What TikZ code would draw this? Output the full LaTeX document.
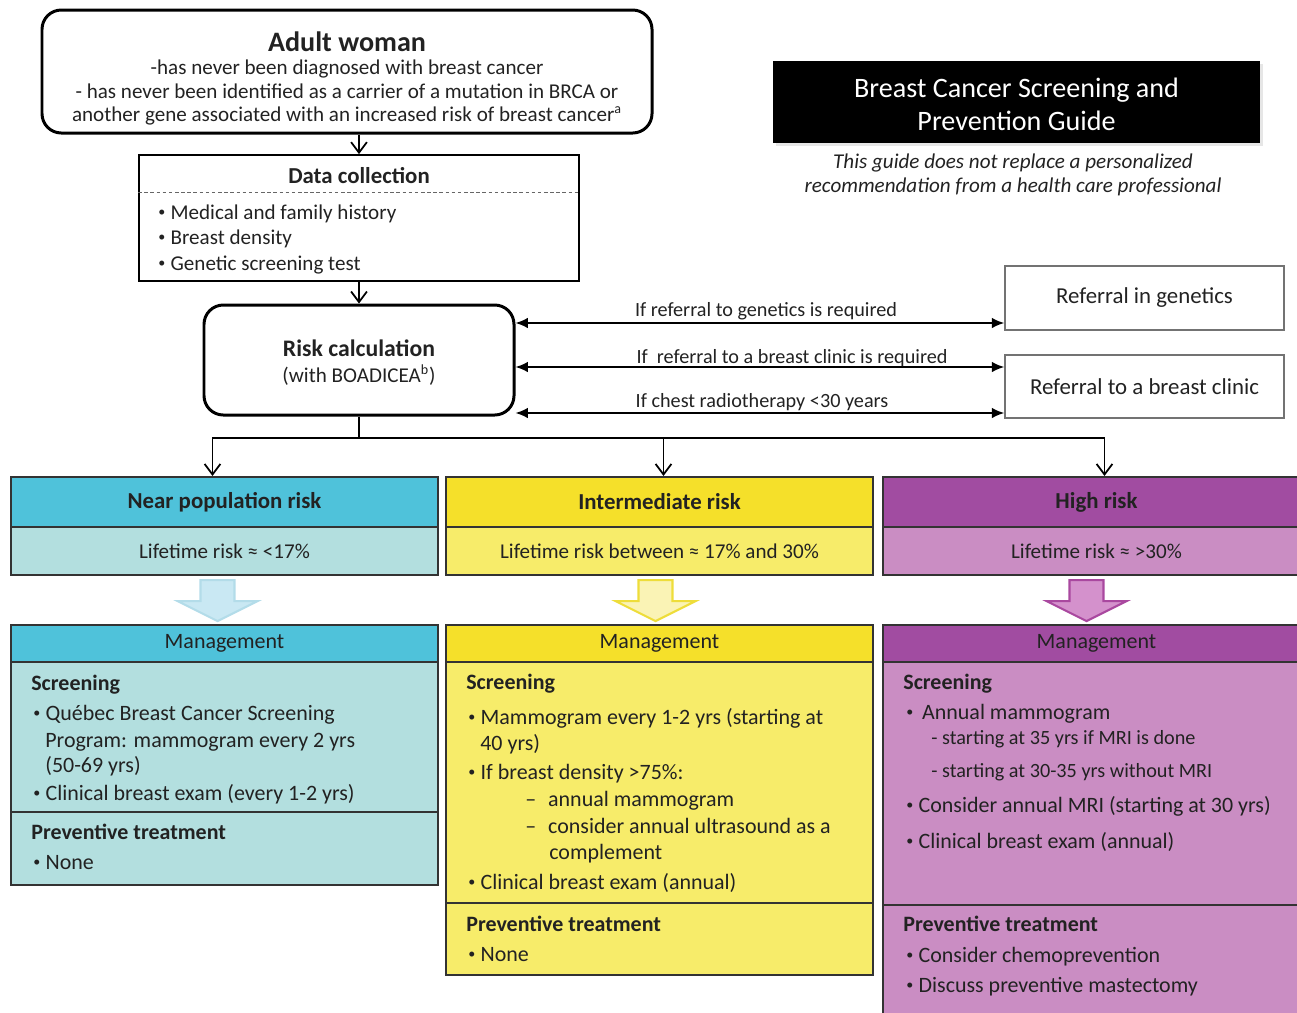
\documentclass[tikz,border=0pt]{standalone}
\usepackage{fontspec}
\setmainfont{Carlito}
\usetikzlibrary{arrows.meta,calc,shadows}

\definecolor{ink}{HTML}{222222}
\definecolor{cyanhead}{HTML}{4FC2DA}
\definecolor{cyanlt}{HTML}{B3DFDF}
\definecolor{cyanarr}{HTML}{C9E8F3}
\definecolor{cyanarrd}{HTML}{B3DCE9}
\definecolor{yelhead}{HTML}{F5E02A}
\definecolor{yellt}{HTML}{F7EC6A}
\definecolor{yelarr}{HTML}{FAF3B5}
\definecolor{yelarrd}{HTML}{EEDD3A}
\definecolor{purhead}{HTML}{A14CA1}
\definecolor{purlt}{HTML}{CA8DC3}
\definecolor{purarr}{HTML}{D491CC}
\definecolor{purarrd}{HTML}{A9489F}

\newcommand\pxl{0.02cm}
\newcommand\bdot{\raisebox{0.22ex}{\fontsize{8}{8}\selectfont•}}
\newcommand\bul{\makebox[7pt][l]{\bdot}}

\begin{document}
\begin{tikzpicture}[x=0.02cm, y=-0.02cm, text=ink,
    every node/.style={inner sep=0pt, font=\fontsize{12.5}{14}\selectfont},
    line/.style={anchor=base west},
    cline/.style={anchor=base},
    roundbox/.style={draw, line width=1.7pt, rounded corners=11pt},
    refbox/.style={draw=black!55, line width=0.9pt, minimum width=279*\pxl, font=\fontsize{13}{15}\selectfont},
    colbox/.style={draw=black!80, line width=1.2pt, minimum width=427*\pxl},
    hd/.style={colbox, minimum height=50*\pxl, font=\fontsize{13}{15}\selectfont\bfseries},
    lt/.style={colbox, minimum height=48*\pxl, font=\fontsize{12}{14}\selectfont},
    mg/.style={colbox, minimum height=37*\pxl, font=\fontsize{12.5}{14}\selectfont},
    lbl/.style={anchor=base, font=\fontsize{11.5}{13}\selectfont},
    varr/.style={-{Straight Barb[length=6pt,width=9pt]}, line width=1pt},
    darr/.style={{Latex[length=7pt,width=6pt]}-{Latex[length=7pt,width=6pt]}, line width=1pt}
]
\useasboundingbox (0,0) rectangle (1297,1012);

% top of the chart
\node[roundbox, minimum width=610*\pxl, minimum height=123*\pxl] (adult) at (347,71.5) {};
\node[cline, font=\fontsize{16}{18}\selectfont\bfseries] (adultT) at (347,51) {Adult woman};
\node[cline, font=\fontsize{12}{13}\selectfont] (adult1) at (347,74) {-has never been diagnosed with breast cancer};
\node[cline, font=\fontsize{12}{13}\selectfont] (adult2) at (347,98) {- has never been identified as a carrier of a mutation in BRCA or};
\node[cline, font=\fontsize{12}{13}\selectfont] (adult3) at (347,121) {another gene associated with an increased risk of breast cancer\textsuperscript{a}};

\node[draw, line width=1pt, minimum width=440*\pxl, minimum height=126*\pxl] (data) at (359,218) {};
\draw[dash pattern=on 2pt off 1.5pt, black!60] (data.west |- 0,192) -- (data.east |- 0,192);
\node[cline, font=\fontsize{13}{15}\selectfont\bfseries] (dataT) at (359,183) {Data collection};
\node[line, font=\fontsize{12}{14}\selectfont] (data1) at (158,219) {\bul Medical and family history};
\node[line, font=\fontsize{12}{14}\selectfont] (data2) at (158,244) {\bul Breast density};
\node[line, font=\fontsize{12}{14}\selectfont] (data3) at (158,270) {\bul Genetic screening test};

\node[roundbox, minimum width=310*\pxl, minimum height=110*\pxl] (risk) at (359,360) {};
\node[cline, font=\fontsize{13.5}{15}\selectfont\bfseries] (riskT) at (359,356) {Risk calculation};
\node[cline, font=\fontsize{12}{14}\selectfont] (riskS) at (359,382) {(with BOADICEA\textsuperscript{b})};

\draw[varr] (adult.south -| data.north) -- (data.north);
\draw[varr] (data.south) -- (risk.north);

% guide title
\node[fill=black, minimum width=487*\pxl, minimum height=82*\pxl,
  drop shadow={opacity=0.2, shadow xshift=1.5pt, shadow yshift=-1.5pt}] (title) at (1016.5,102) {};
\node[text=white, align=center, font=\fontsize{16}{18.7}\selectfont] (titleT) at (1016.5,104)
  {Breast Cancer Screening and\\Prevention Guide};
\node[align=center, font=\fontsize{12}{13.6}\selectfont\itshape] (note) at (1013,175)
  {This guide does not replace a personalized\\recommendation from a health care professional};

% referrals
\node[refbox, minimum height=64*\pxl] (gen) at (1144.5,298) {Referral in genetics};
\node[refbox, minimum height=63*\pxl] (clinic) at (1144.5,386.5) {Referral to a breast clinic};

\draw[darr] (risk.east |- 0,323) -- (gen.west |- 0,323);
\draw[darr] (risk.east |- 0,367) -- (clinic.west |- 0,367);
\draw[darr] (risk.east |- 0,413) -- (clinic.west |- 0,413);
\node[lbl] (lab1) at (766,316) {If referral to genetics is required};
\node[lbl] (lab2) at (792,363) {If~ referral to a breast clinic is required};
\node[lbl] (lab3) at (762,407) {If chest radiotherapy <30 years};

% management bodies
\node[colbox, fill=cyanlt, minimum height=150*\pxl] (nearscr) at (224.5,737) {};
\node[colbox, fill=cyanlt, minimum height=73*\pxl] (nearprev) at (224.5,848.5) {};
\node[colbox, fill=yellt, minimum height=241*\pxl] (midscr) at (659.5,782.5) {};
\node[colbox, fill=yellt, minimum height=72*\pxl] (midprev) at (659.5,939) {};
\node[colbox, fill=purlt, minimum height=243*\pxl] (highscr) at (1096.5,783.5) {};
\node[colbox, fill=purlt, minimum height=135*\pxl] (highprev) at (1096.5,972.5) {};

% risk levels
\node[hd, fill=cyanhead] (nearhd) at (224.5,502) {Near population risk};
\node[lt, fill=cyanlt] (nearlt) at (224.5,551) {Lifetime risk ≈ <17\%};
\node[mg, fill=cyanhead] (nearmg) at (224.5,643.5) {Management};
\node[hd, fill=yelhead] (midhd) at (659.5,502) {Intermediate risk};
\node[lt, fill=yellt] (midlt) at (659.5,551) {Lifetime risk between ≈ 17\% and 30\%};
\node[mg, fill=yelhead] (midmg) at (659.5,643.5) {Management};
\node[hd, fill=purhead] (highhd) at (1096.5,502) {High risk};
\node[lt, fill=purlt] (highlt) at (1096.5,551) {Lifetime risk ≈ >30\%};
\node[mg, fill=purhead] (highmg) at (1096.5,643.5) {Management};

\coordinate (split) at (risk.south |- 0,438);
\draw[line width=1pt] (risk.south) -- (split);
\foreach \n/\s in {nearhd/-12, midhd/4, highhd/8}
  \draw[varr] (split) -| ([xshift=\s*\pxl]\n.north);

\foreach \n/\dx/\fc/\dc in {nearlt/-7/cyanarr/cyanarrd, midlt/-4/yelarr/yelarrd, highlt/-10/purarr/purarrd}
  \draw[fill=\fc, draw=\dc, line width=1.2pt] ($(\n.south)+(\dx-17,4)$) -- ++(34,0) -- ++(0,21)
    -- ++(23,0) -- ++(-40,20) -- ++(-40,-20) -- ++(23,0) -- cycle;

% near population risk
\node[line, font=\fontsize{12.5}{14}\selectfont\bfseries] (nearS) at (31,690) {Screening};
\node[line] (near1) at (33,720) {\bul Québec Breast Cancer Screening};
\node[line] (near2) at (45,747) {Program: mammogram every 2 yrs};
\node[line] (near3) at (45,772) {(50-69 yrs)};
\node[line] (near4) at (33,800) {\bul Clinical breast exam (every 1-2 yrs)};
\node[line, font=\fontsize{12.5}{14}\selectfont\bfseries] (nearP) at (31,839) {Preventive treatment};
\node[line] (near5) at (33,869) {\bul None};

% intermediate risk
\node[line, font=\fontsize{12.5}{14}\selectfont\bfseries] (midS) at (466,689) {Screening};
\node[line] (mid1) at (468,724) {\bul Mammogram every 1-2 yrs (starting at};
\node[line] (mid2) at (480,750) {40 yrs)};
\node[line] (mid3) at (468,779) {\bul If breast density >75\%:};
\node[line] (mid4) at (525,806) {\makebox[13pt][l]{–}annual mammogram};
\node[line] (mid5) at (525,833) {\makebox[13pt][l]{–}consider annual ultrasound as a};
\node[line] (mid6) at (549,859) {complement};
\node[line] (mid7) at (468,889) {\bul Clinical breast exam (annual)};
\node[line, font=\fontsize{12.5}{14}\selectfont\bfseries] (midP) at (466,931) {Preventive treatment};
\node[line] (mid8) at (468,961) {\bul None};

% high risk
\node[line, font=\fontsize{12.5}{14}\selectfont\bfseries] (highS) at (903,689) {Screening};
\node[line] (high1) at (906,719) {\makebox[9pt][l]{\bdot}Annual mammogram};
\node[line, font=\fontsize{11.5}{13}\selectfont] (high2) at (931,744) {- starting at 35 yrs if MRI is done};
\node[line, font=\fontsize{11.5}{13}\selectfont] (high3) at (931,777) {- starting at 30-35 yrs without MRI};
\node[line] (high4) at (906,812) {\bul Consider annual MRI (starting at 30 yrs)};
\node[line] (high5) at (906,848) {\bul Clinical breast exam (annual)};
\node[line, font=\fontsize{12.5}{14}\selectfont\bfseries] (highP) at (903,931) {Preventive treatment};
\node[line] (high6) at (906,962) {\bul Consider chemoprevention};
\node[line] (high7) at (906,992) {\bul Discuss preventive mastectomy};
\end{tikzpicture}
\end{document}
